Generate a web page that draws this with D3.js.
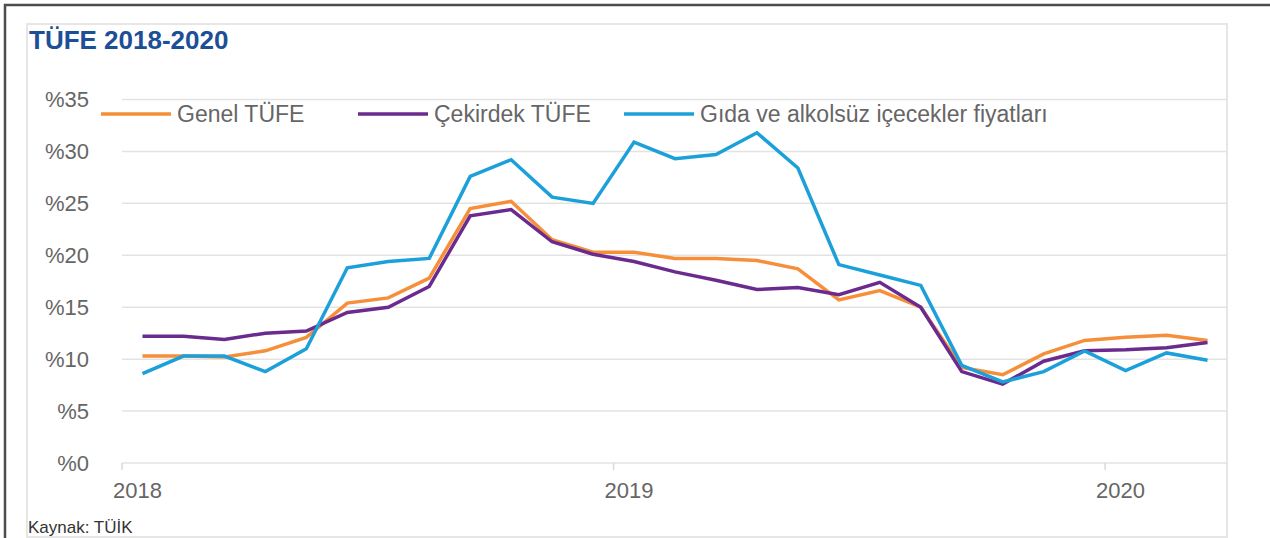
<!DOCTYPE html>
<html>
<head>
<meta charset="utf-8">
<script src="https://cdn.jsdelivr.net/npm/d3@7"></script>
<style>
  body { margin: 0; background: #fff; }
  svg { display: block; font-family: "Liberation Sans", Arial, sans-serif; }
</style>
</head>
<body>
<svg width="1270" height="538"></svg>
<script>
// months Jan 2018 - Mar 2020
var months = [
    "2018-01", "2018-02", "2018-03", "2018-04", "2018-05", "2018-06",
    "2018-07", "2018-08", "2018-09", "2018-10", "2018-11", "2018-12",
    "2019-01", "2019-02", "2019-03", "2019-04", "2019-05", "2019-06",
    "2019-07", "2019-08", "2019-09", "2019-10", "2019-11", "2019-12",
    "2020-01", "2020-02", "2020-03"
];

var genelTufe = [10.3, 10.3, 10.2, 10.8, 12.1, 15.4, 15.9, 17.8, 24.5, 25.2, 21.5, 20.3,
    20.3, 19.7, 19.7, 19.5, 18.7, 15.7, 16.6, 15.0, 9.2, 8.5, 10.5, 11.8,
    12.1, 12.3, 11.8];

var cekirdekTufe = [12.2, 12.2, 11.9, 12.5, 12.7, 14.5, 15.0, 17.0, 23.8, 24.4, 21.3, 20.1,
    19.4, 18.4, 17.6, 16.7, 16.9, 16.2, 17.4, 15.0, 8.8, 7.6, 9.8, 10.8,
    10.9, 11.1, 11.6];

var gidaFiyat = [8.6, 10.3, 10.3, 8.8, 11.0, 18.8, 19.4, 19.7, 27.6, 29.2, 25.6, 25.0,
    30.9, 29.3, 29.7, 31.8, 28.4, 19.1, 18.1, 17.1, 9.4, 7.8, 8.8, 10.8,
    8.9, 10.6, 9.9];

var seriesNames = ["Genel TÜFE", "Çekirdek TÜFE", "Gıda ve alkolsüz içecekler fiyatları"];
var yTicks = [0, 5, 10, 15, 20, 25, 30, 35];
var yearTicks = ["2018-01", "2019-01", "2020-01"];

var colorGenel = "#F58F3A";
var colorCekirdek = "#6B2A8E";
var colorGida = "#1CA0DA";
var colorText = "#666666";
var colorGrid = "#E3E3E3";

var canvas = d3.select("svg");

// outer frame and inner panel
canvas.append("line")
    .attr("x1", 4).attr("x2", 1270).attr("y1", 5).attr("y2", 5)
    .attr("stroke", "#4d4d4d").attr("stroke-width", 2.5);
canvas.append("line")
    .attr("x1", 5).attr("x2", 5).attr("y1", 4).attr("y2", 538)
    .attr("stroke", "#4d4d4d").attr("stroke-width", 2.5);
canvas.append("rect")
    .attr("x", 27).attr("y", 24).attr("width", 1200).attr("height", 513)
    .attr("fill", "none").attr("stroke", "#E6E6E6").attr("stroke-width", 2);

canvas.append("text")
    .attr("x", 29).attr("y", 49)
    .attr("font-size", 26).attr("font-weight", "bold")
    .attr("fill", "#1C4F95")
    .text("TÜFE 2018-2020");

canvas.append("text")
    .attr("x", 28).attr("y", 533)
    .attr("font-size", 17).attr("fill", "#333")
    .text("Kaynak: TÜİK");

var xScale = d3.scaleBand()
    .domain(months)
    .range([122, 1228])
    .padding(0);

var yScale = d3.scaleLinear()
    .domain([0, 35])
    .range([463, 99.5]);

var half = xScale.bandwidth() / 2;

// gridlines
canvas.append("g").selectAll("line")
    .data(yTicks)
    .enter()
    .append("line")
    .attr("x1", 122).attr("x2", 1227)
    .attr("y1", d => yScale(d)).attr("y2", d => yScale(d))
    .attr("stroke", colorGrid).attr("stroke-width", 1.5);

// y labels
var yAxis = canvas.append("g")
    .attr("transform", "translate(89,0)")
    .call(d3.axisLeft(yScale).tickValues(yTicks).tickSize(0).tickPadding(0)
        .tickFormat(d => "%" + d));
yAxis.select(".domain").remove();
yAxis.selectAll("text")
    .attr("font-size", 22).attr("font-family", "Liberation Sans, Arial, sans-serif")
    .attr("fill", colorText);

// year tick marks at band start
canvas.append("g").selectAll("line")
    .data(yearTicks)
    .enter()
    .append("line")
    .attr("x1", d => xScale(d)).attr("x2", d => xScale(d))
    .attr("y1", 463).attr("y2", 470)
    .attr("stroke", "#D9D9D9").attr("stroke-width", 1.5);

var xAxis = canvas.append("g")
    .attr("transform", "translate(-5,463)")
    .call(d3.axisBottom(xScale).tickValues(yearTicks).tickSize(0).tickPadding(19)
        .tickFormat(d => d.slice(0, 4)));
xAxis.select(".domain").remove();
xAxis.selectAll("text")
    .attr("font-size", 22).attr("font-family", "Liberation Sans, Arial, sans-serif")
    .attr("fill", colorText);

// lines
var seriesList = [
    { name: seriesNames[0], values: genelTufe, color: colorGenel },
    { name: seriesNames[1], values: cekirdekTufe, color: colorCekirdek },
    { name: seriesNames[2], values: gidaFiyat, color: colorGida }
];

var lineGen = d3.line()
    .x((d, i) => xScale(months[i]) + half)
    .y(d => yScale(d));

canvas.append("g").selectAll("path")
    .data(seriesList)
    .enter()
    .append("path")
    .attr("d", d => lineGen(d.values))
    .attr("fill", "none")
    .attr("stroke", d => d.color)
    .attr("stroke-width", 3.5)
    .attr("stroke-linejoin", "miter");

// legend
var legendX = [101, 358, 624];
var legend = canvas.append("g").selectAll("g")
    .data(seriesList)
    .enter()
    .append("g")
    .attr("transform", (d, i) => `translate(${legendX[i]},114)`);

legend.append("line")
    .attr("x1", 0).attr("x2", 70)
    .attr("y1", 0).attr("y2", 0)
    .attr("stroke", d => d.color).attr("stroke-width", 3.5);

legend.append("text")
    .attr("x", 76).attr("y", 8)
    .attr("font-size", 23)
    .attr("fill", colorText)
    .text(d => d.name);
</script>
</body>
</html>
